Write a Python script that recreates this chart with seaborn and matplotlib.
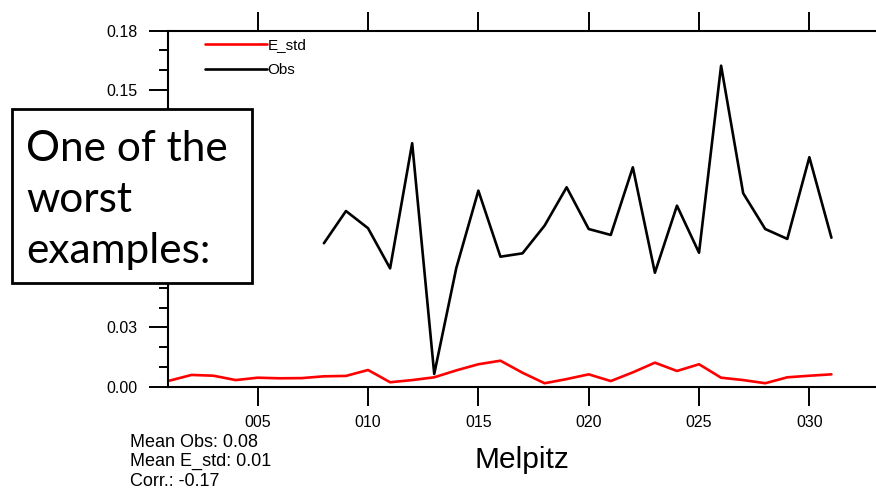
import numpy as np
import pandas as pd
import matplotlib
matplotlib.use("Agg")
import matplotlib.pyplot as plt
from matplotlib.patches import Rectangle
from matplotlib.ticker import MultipleLocator, FuncFormatter
import seaborn as sns

# ---- data -------------------------------------------------------------
days = list(range(1, 32))
e_std = [0.0030, 0.0059, 0.0055, 0.0033, 0.0045, 0.0042, 0.0043, 0.0052,
         0.0054, 0.0084, 0.0022, 0.0033, 0.0047, 0.0082, 0.0113, 0.0131,
         0.0070, 0.0017, 0.0038, 0.0062, 0.0028, 0.0072, 0.0121, 0.0079,
         0.0113, 0.0045, 0.0033, 0.0017, 0.0047, 0.0055, 0.0062]
obs_days = list(range(8, 32))
obs = [0.0725, 0.0888, 0.0801, 0.0598, 0.1231, 0.0064, 0.0600, 0.0991,
       0.0657, 0.0674, 0.0814, 0.1008, 0.0797, 0.0767, 0.1109, 0.0576,
       0.0915, 0.0677, 0.1623, 0.0978, 0.0797, 0.0747, 0.1160, 0.0753]
x_ticks = [5, 10, 15, 20, 25, 30]
y_ticks = [0.00, 0.03, 0.06, 0.09, 0.12, 0.15, 0.18]
y_labels_shown = [0.00, 0.03, 0.15, 0.18]   # the others sit beneath the note box
station = "Melpitz"
stats_lines = ["Mean Obs: 0.08", "Mean E_std: 0.01", "Corr.: -0.17"]
note_lines = ["One of the", "worst", "examples:"]

df_e = pd.DataFrame({"day": days, "value": e_std})
df_o = pd.DataFrame({"day": obs_days, "value": obs})

# ---- style ------------------------------------------------------------
sns.set_style("ticks")
plt.rcParams["font.family"] = ["Liberation Sans", "DejaVu Sans"]
plt.rcParams["text.color"] = "black"
plt.rcParams["axes.labelcolor"] = "black"
plt.rcParams["xtick.color"] = "black"
plt.rcParams["ytick.color"] = "black"

W, H = 876, 490
fig = plt.figure(figsize=(W / 100, H / 100), dpi=100)
fig.patch.set_facecolor("white")

def px(x, y):
    """pixel (from top-left) -> figure fraction"""
    return x / W, 1 - y / H

ax_left, ax_top = 167.7, 30.7
ax_bottom = 386.6
ax = fig.add_axes([ax_left / W, 1 - ax_bottom / H, 1 - ax_left / W,
                   (ax_bottom - ax_top) / H])
ax.set_facecolor("white")

sns.lineplot(data=df_e, x="day", y="value", ax=ax, color="#ff0000",
             linewidth=1.9, label="E_std")
sns.lineplot(data=df_o, x="day", y="value", ax=ax, color="black",
             linewidth=1.9, label="Obs")

ax.set_xlim(0.921, 33.02)
ax.set_ylim(0, 0.18)
ax.set_xticks(x_ticks)
ax.xaxis.set_major_formatter(FuncFormatter(lambda v, p: f"{int(round(v)):03d}"))
ax.set_yticks(y_ticks)
ax.yaxis.set_major_formatter(FuncFormatter(
    lambda v, p: f"{v:.2f}" if any(abs(v - s) < 1e-9 for s in y_labels_shown) else ""))
ax.yaxis.set_minor_locator(MultipleLocator(0.01))

for side in ["left", "bottom", "top"]:
    ax.spines[side].set_visible(True)
    ax.spines[side].set_linewidth(1.5)
    ax.spines[side].set_color("black")
ax.spines["right"].set_visible(False)

ax.tick_params(axis="x", which="major", direction="out", length=13.7,
               width=1.4, top=True, labeltop=False, bottom=True,
               labelsize=11.5, pad=6.5, color="black", labelcolor="black")
ax.tick_params(axis="y", which="major", direction="out", length=13.7,
               width=1.4, labelsize=11.5, pad=8.2, right=False,
               color="black", labelcolor="black")
ax.tick_params(axis="y", which="minor", direction="out", length=6.8,
               width=1.4, right=False, color="black")
ax.tick_params(axis="x", which="minor", bottom=False, top=False)

ax.set_ylabel("")
ax.set_xlabel(station, fontsize=21.5, color="black")
ax.xaxis.label.set_va("baseline")
ax.xaxis.set_label_coords(0.5, (ax_bottom - 468.3) / (ax_bottom - ax_top))

leg = ax.legend(loc="upper left", frameon=False, fontsize=11,
                handlelength=4.05, handletextpad=0.05, labelspacing=0.69,
                borderpad=0, borderaxespad=0,
                bbox_to_anchor=px(205, 38.5), bbox_transform=fig.transFigure)
for t in leg.get_texts():
    t.set_color("black")

# statistics under the axes
for i, line in enumerate(stats_lines):
    fig.text(*px(129.5, 446.7 + i * 19.6), line, fontsize=13,
             ha="left", va="baseline", color="black")

# annotation box overlaying the left of the plot
bx0, by0, bx1, by1 = 12, 109.3, 252, 282.7
fig.patches.append(Rectangle(px(bx0, by1), (bx1 - bx0) / W, (by1 - by0) / H,
                             transform=fig.transFigure, facecolor="white",
                             edgecolor="black", linewidth=2, zorder=5))
for i, line in enumerate(note_lines):
    fig.text(*px(26, 161 + i * 51), line, fontsize=30.5,
             family=["Lato", "DejaVu Sans"], color="black",
             ha="left", va="baseline", zorder=6)

fig.savefig("out.png", dpi=100, facecolor="white")
